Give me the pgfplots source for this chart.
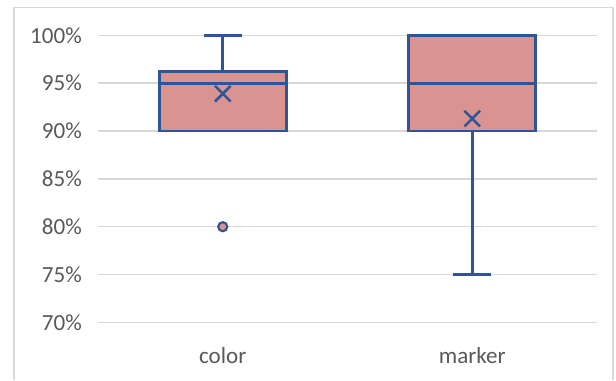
\documentclass[border=0pt]{standalone}
\usepackage{pgfplots}
\pgfplotsset{compat=1.18}
\usepgfplotslibrary{statistics}
\usepackage{fontspec}
\setmainfont{Carlito}
\definecolor{boxfill}{RGB}{217,148,146}
\definecolor{boxline}{RGB}{47,85,151}
\definecolor{gridc}{RGB}{217,217,217}
\definecolor{tickc}{RGB}{89,89,89}
\begin{document}
\begin{tikzpicture}
\useasboundingbox (-73.5pt,-43.2pt) rectangle (388.5pt,241.8pt);
\draw[gridc, line width=0.9pt] (-63pt,-43.2pt) -- (-63pt,236.2pt) -- (386.25pt,236.2pt) -- (386.25pt,-43.2pt);
\begin{axis}[
  at={(0pt,0pt)}, anchor=south west,
  scale only axis, width=374.25pt, height=215.3pt,
  xmin=0.5, xmax=2.5, ymin=70, ymax=100,
  xtick={1,2}, xticklabels={color,marker},
  ytick={70,75,80,85,90,95,100},
  yticklabels={70\%,75\%,80\%,85\%,90\%,95\%,100\%},
  ymajorgrids, grid style={gridc, line width=1.1pt},
  axis line style={draw=none},
  major tick length=0pt,
  tick label style={font=\fontsize{17.3}{20}\selectfont, text=tickc},
  xticklabel style={anchor=base, yshift=-30.7pt},
  yticklabel style={anchor=east, inner sep=0pt, xshift=-12pt},
  clip=false,
  boxplot/draw direction=y,
  boxplot/box extend=0.51,
  boxplot/whisker extend=0.152,
]
\addplot[boxplot prepared={draw position=1, lower whisker=90, lower quartile=90, median=95, upper quartile=96.25, upper whisker=100},
  draw=boxline, fill=boxfill, line width=2.2pt,
  mark=*, mark size=3.4pt, mark options={fill=boxfill, draw=boxline, line width=1.6pt}]
  coordinates {(0,80)};
\addplot[boxplot prepared={draw position=2, lower whisker=75, lower quartile=90, median=95, upper quartile=100, upper whisker=100},
  draw=boxline, fill=boxfill, line width=2.2pt]
  coordinates {};
\addplot[only marks, mark=x, mark size=8.3pt, draw=boxline, line width=1.9pt]
  coordinates {(1,93.9) (2,91.3)};
\end{axis}
\end{tikzpicture}
\end{document}
